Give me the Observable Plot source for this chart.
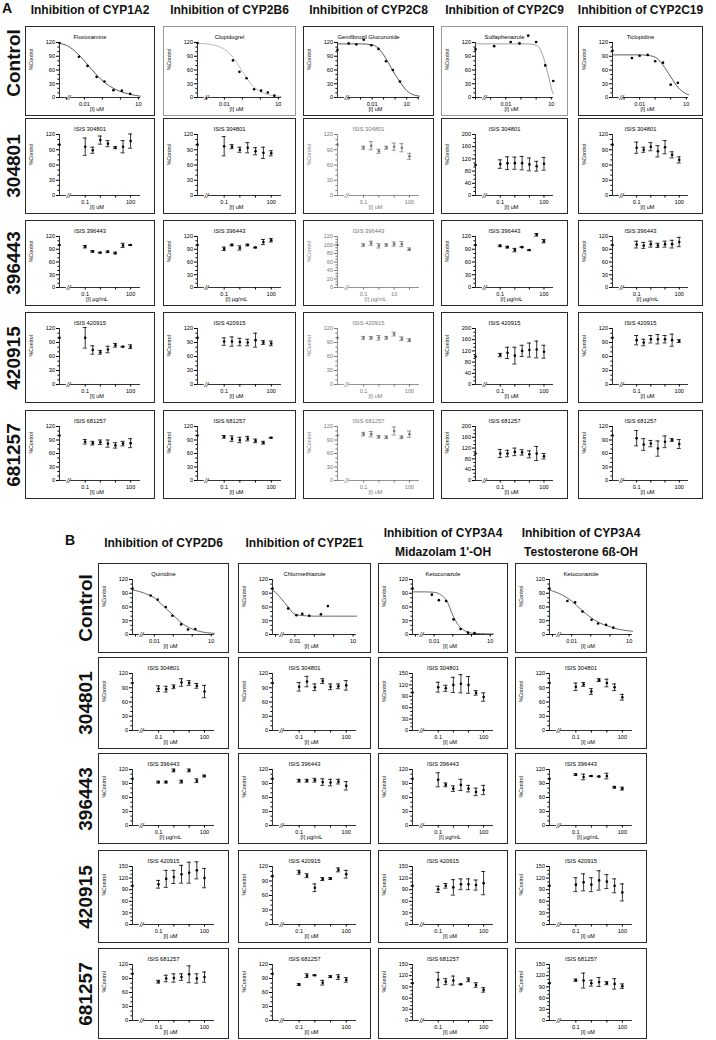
<!DOCTYPE html>
<html><head><meta charset="utf-8">
<script src="https://cdn.jsdelivr.net/npm/d3@7"></script>
<script src="https://cdn.jsdelivr.net/npm/@observablehq/plot@0.6"></script>
<style>
body{margin:0;background:#fff;font-family:"Liberation Sans",Arial,sans-serif;}
#root{position:relative;width:716px;height:1040px;overflow:hidden;background:#fff;}
.panel{position:absolute;box-sizing:border-box;border:1.6px solid #2a2a2a;background:#fff;}
.panel svg{display:block;}
.ct{position:absolute;font-weight:bold;font-size:12px;text-align:center;white-space:nowrap;line-height:19px;color:#111;}
.rl{position:absolute;font-weight:bold;font-size:19px;white-space:nowrap;color:#111;transform:translate(-50%,-50%) rotate(-90deg);}
.sec{position:absolute;font-weight:bold;font-size:14px;color:#111;}
</style></head><body><div id="root"></div>
<script>
// ---------- labels ----------
const rowLabels = ["Control","304801","396443","420915","681257"];
const titlesA = ["Inhibition of CYP1A2","Inhibition of CYP2B6","Inhibition of CYP2C8","Inhibition of CYP2C9","Inhibition of CYP2C19"];
const titlesB = [["Inhibition of CYP2D6"],["Inhibition of CYP2E1"],["Inhibition of CYP3A4","Midazolam 1'-OH"],["Inhibition of CYP3A4","Testosterone 6ß-OH"]];
const probesA = ["Fluvoxamine","Clopidogrel","Gemfibrozil Glucuronide","Sulfaphenazole","Ticlopidine"];
const probesB = ["Quinidine","Chlormethiazole","Ketoconazole","Ketoconazole"];
const isisLabels = ["ISIS 304801","ISIS 396443","ISIS 420915","ISIS 681257"];
const unitLabels = ["[I] uM","[I] µg/mL","[I] uM","[I] uM"];
const ctrlUnit = "[I] uM";

// ---------- ASO panels: concentrations (uM or ug/mL) ----------
const isisConc = [0.1, 0.316, 1, 3.16, 10, 31.6, 100];
const isisTicks = [0.1, 1, 10, 100];

// Section A means / SD, per ASO row, per enzyme (1A2, 2B6, 2C8, 2C9, 2C19)
const meanA_304801 = [[96,89,109,102,94,96,107],[97,96,90,94,87,84,83],[94,98,87,94,96,94,77],[103,106,106,106,102,96,104],[94,90,96,87,95,80,70]];
const errA_304801  = [[17,6,8,6,2,12,14],[19,4,5,10,7,11,5],[3,8,4,3,7,8,6],[14,21,20,22,21,16,21],[11,5,8,11,13,6,6]];
const meanA_396443 = [[96,85,82,84,81,99,100],[91,100,93,100,94,107,111],[100,104,98,100,102,102,90],[98,95,88,95,88,124,109],[101,99,102,99,102,102,107]];
const errA_396443  = [[3,2,1,2,2,5,1],[4,2,5,2,1,6,4],[3,5,5,3,5,6,3],[2,2,4,1,1,3,4],[8,7,7,5,7,9,11]];
const meanA_420915 = [[100,74,69,75,84,81,81],[92,92,91,90,95,90,88],[100,100,100,100,108,98,95],[105,113,103,120,123,125,117],[95,90,97,97,97,95,93]];
const errA_420915  = [[22,9,4,7,4,1,4],[8,10,8,7,15,4,5],[3,3,5,3,4,4,3],[6,20,30,20,25,30,23],[10,7,8,10,8,13,3]];
const meanA_681257 = [[86,83,85,82,78,82,83],[97,93,90,93,88,84,95],[103,103,97,96,110,96,103],[100,100,106,104,97,100,90],[94,80,82,71,86,90,81]];
const errA_681257  = [[5,4,5,8,6,5,10],[3,6,6,5,4,3,1],[4,6,3,3,9,3,7],[15,12,14,10,13,26,10],[17,13,7,17,13,3,10]];
const yMaxA = [[120,120,120,200,120],[120,120,120,120,120],[120,120,120,200,120],[120,120,120,200,120]];

// Section B (2D6, 2E1, 3A4-midazolam, 3A4-testosterone)
const meanB_304801 = [[88,87,92,101,100,94,82],[92,103,91,104,92,93,95],[114,111,120,123,120,99,88],[92,97,82,106,100,91,70]];
const errB_304801  = [[6,6,4,8,5,5,13],[9,11,7,5,6,5,10],[13,8,20,24,22,6,11],[8,4,6,3,8,7,6]];
const meanB_396443 = [[93,93,118,94,118,96,106],[96,96,97,93,92,94,85],[98,87,79,87,79,72,76],[109,104,106,105,106,82,79]];
const errB_396443  = [[2,2,3,3,3,4,2],[3,3,4,7,7,5,9],[15,4,6,12,7,8,10],[2,6,1,1,6,2,3]];
const meanB_420915 = [[104,118,123,130,134,140,120],[108,101,76,94,95,113,104],[91,100,96,104,104,102,107],[103,109,103,114,111,100,83]];
const errB_420915  = [[10,22,17,23,27,22,25],[4,4,8,3,2,4,8],[8,6,20,14,14,13,30],[18,22,18,25,18,18,22]];
const meanB_681257 = [[83,90,91,93,99,90,93],[77,96,97,81,94,93,87],[109,104,107,97,109,95,82],[108,107,100,103,100,98,92]];
const errB_681257  = [[3,7,9,7,18,10,11],[2,4,1,5,2,5,5],[20,8,12,1,5,6,6],[3,20,8,12,4,14,6]];
const yMaxB = [[120,120,150,120],[120,120,120,120],[150,120,150,150],[120,120,150,150]];

// ---------- Control (positive inhibitor) panels, section A ----------
const ctrlBaseA = [119,119,104,105,102];
const ctrlDomainA = [[0.00042,13],[0.00032,15],[0.00001,130],[0.0001,14],[0.00018,14]];
const ctrlTicksA = [[0.001,0.01,0.1,1,10],[0.001,0.01,0.1,1,10],[0.0001,0.001,0.01,0.1,1,10,100],[0.0001,0.001,0.01,0.1,1,10],[0.001,0.01,0.1,1,10]];
const ctrlConcA = [
  [0.005,0.015,0.048,0.13,0.41,1.2,3.5],
  [0.03,0.069,0.17,0.45,1.1,2.6,6],
  [0.000093,0.00043,0.0019,0.0087,0.036,0.16,0.63,2.6],
  [0.0017,0.021,0.08,0.3,1.0,4,13.5],
  [0.0032,0.01,0.033,0.1,0.32,1,2.9]];
const ctrlPctA = [
  [89,69,45,35,16,15,8],
  [81,56,42,18,15,11,4],
  [118,116,126,114,106,79,60,35],
  [112,121,118,135,121,70,36],
  [86,91,93,79,76,28,32]];
// fitted curves as (x, y) pairs
const curveXA = [
  [0.00042,0.001,0.005,0.015,0.048,0.13,0.41,1.2,3.5,10,13],
  [0.00032,0.001,0.003,0.01,0.03,0.1,0.3,1,3,10,15],
  [0.00001,0.0001,0.001,0.01,0.03,0.1,0.3,1,3,10,30,130],
  [0.0001,0.001,0.01,0.1,0.3,1,2,3,5,8,12,14],
  [0.00018,0.001,0.01,0.03,0.1,0.3,1,3,10,14]];
const curveYA = [
  [118,114,93,72,49,33,20,12,7,3.5,3],
  [118,117,114,105,88,57,30,13,6,3,2],
  [117,117,117,115,109,93,73,50,32,15,7,3],
  [117,117,117,117,117,114,103,88,62,35,12,8],
  [93,93,93,92,88,72,45,22,8,6]];

// ---------- Control panels, section B ----------
const ctrlBaseB = [100,100,100,100];
const ctrlDomainB = [0.0007,15];
const ctrlTicksB = [0.001,0.01,0.1,1,10];
const ctrlConcB = [
  [0.0063,0.015,0.04,0.09,0.26,0.6,1.45],
  [0.0045,0.012,0.024,0.055,0.22,0.5],
  [0.0076,0.018,0.044,0.11,0.26,0.65,1.45],
  [0.006,0.015,0.037,0.11,0.24,0.63,1.5]];
const ctrlPctB = [
  [85,76,60,41,22,11,12],
  [57,42,45,41,44,62],
  [87,75,73,33,12,4,3],
  [73,70,50,32,24,21,15]];
const curveXB = [
  [0.0007,0.001,0.003,0.01,0.03,0.1,0.3,1,3,10,15],
  [0.0007,0.001,0.002,0.0045,0.01,0.03,0.1,1,15],
  [0.0007,0.001,0.003,0.01,0.02,0.05,0.1,0.2,0.5,1,3,15],
  [0.0007,0.001,0.003,0.01,0.03,0.1,0.3,1,3,10,15]];
const curveYB = [
  [97,96,90,80,62,42,24,12,6,3,2.5],
  [96,92,78,60,44,41,40,40,40],
  [93,93,93,92,88,72,42,20,7,3,2,1],
  [97,95,87,73,55,37,25,17,11,8,7]];

// ---------- layout ----------
const colA = [{l:25,w:130},{l:163,w:133},{l:303,w:131},{l:441,w:127},{l:578,w:125}];
const rowA = [{t:26,h:90},{t:118,h:96},{t:220,h:86},{t:312,h:91},{t:410,h:89}];
const colB = [{l:98,w:131},{l:238,w:133},{l:378,w:130},{l:515,w:132}];
const rowB = [{t:563,h:90},{t:657,h:92},{t:753,h:91},{t:850,h:93},{t:948,h:91}];

const root = document.getElementById("root");
const FONT = '"Liberation Sans", Arial, sans-serif';

function panel(o){
  const div = document.createElement("div");
  div.className = "panel";
  Object.assign(div.style,{left:o.left+"px",top:o.top+"px",width:o.w+"px",height:o.h+"px",borderColor:o.border||"#2a2a2a"});
  const ink = o.ink || "#000";
  const [x0,x1] = o.xDomain;
  const mL = 33, mR = 13, mT = 15, mB = 17;
  const W = o.w-3, H = o.h-3;
  const pxDec = (W-mL-mR)/Math.log10(x1/x0);
  const bc = x0*Math.pow(10,9/pxDec);
  const brk = [bc*Math.pow(10,-2.2/pxDec), bc*Math.pow(10,2.2/pxDec)];
  const yTicks = d3.range(0, o.ymax+1e-9, o.ystep);
  const yMinor = d3.range(0, o.ymax+1e-9, o.ystep/3).filter(v => !yTicks.some(t => Math.abs(t-v) < 1e-6));
  const pts = o.conc.map((c,i) => ({x:c, y:o.mean[i], e:o.err ? o.err[i] : 0}));
  const k = Math.pow(10, 2/pxDec);
  const marks = [
    Plot.ruleX([x0],{y1:0,y2:o.ymax,stroke:ink,strokeWidth:0.8}),
    Plot.ruleY([0],{x1:x0,x2:brk[0],stroke:ink,strokeWidth:0.8}),
    Plot.ruleY([0],{x1:brk[1],x2:x1,stroke:ink,strokeWidth:0.8}),
    Plot.axisY(yTicks,{anchor:"left",tickSize:3,tickPadding:1.5,fontSize:5.6,stroke:ink,fill:ink,label:null}),
    Plot.axisY(yMinor,{anchor:"left",tickSize:1.6,tickFormat:()=>"",stroke:ink,label:null}),
    Plot.axisX(o.xTicks,{anchor:"bottom",tickSize:2.5,tickPadding:2,fontSize:5.6,stroke:ink,fill:ink,label:null,
      tickFormat:d => o.xLabels.includes(d) ? String(d) : ""}),
    Plot.text([bc],{x:d=>d,y:()=>0,text:()=>"//",fontSize:7.5,fontStyle:"italic",fill:ink}),
    Plot.text([o.title],{frameAnchor:"top",dy:-8,dx:-(mL-mR)/2,fontSize:5.8,fill:ink}),
    Plot.text([o.unit],{frameAnchor:"bottom",dy:13,dx:-3,fontSize:5.6,fill:ink}),
    Plot.text(["%Control"],{frameAnchor:"left",dx:-28,rotate:-90,fontSize:5.2,fill:ink})
  ];
  if (o.curveY) marks.push(Plot.line(o.curveX.map((x,i)=>({x,y:o.curveY[i]})),{x:"x",y:"y",curve:"monotone-x",stroke:o.curveColor||"#333",strokeWidth:0.8}));
  if (o.err) {
    marks.push(Plot.ruleX(pts,{x:"x",y1:d=>d.y-d.e,y2:d=>d.y+d.e,stroke:ink,strokeWidth:0.8}));
    marks.push(Plot.ruleY(pts,{y:d=>d.y+d.e,x1:d=>d.x/k,x2:d=>d.x*k,stroke:ink,strokeWidth:0.8}));
    marks.push(Plot.ruleY(pts,{y:d=>d.y-d.e,x1:d=>d.x/k,x2:d=>d.x*k,stroke:ink,strokeWidth:0.8}));
  }
  marks.push(Plot.dot(pts,{x:"x",y:"y",r:1.3,fill:ink,stroke:null}));
  marks.push(Plot.dot([{x:x0,y:o.base}],{x:"x",y:"y",r:1.3,fill:ink,stroke:null}));
  const svg = Plot.plot({
    width:W, height:H, marginLeft:mL, marginRight:mR, marginTop:mT, marginBottom:mB,
    x:{type:"log",domain:[x0,x1]}, y:{domain:[0,o.ymax]},
    style:{fontFamily:FONT,background:"transparent",overflow:"visible"},
    marks
  });
  div.appendChild(svg);
  root.appendChild(div);
}

function addText(cls, txt, style){
  const d = document.createElement("div");
  d.className = cls; d.innerHTML = txt;
  Object.assign(d.style, style);
  root.appendChild(d);
  return d;
}

// Section labels
addText("sec","A",{left:"2px",top:"0px"});
addText("sec","B",{left:"65px",top:"532px"});

// Column titles
titlesA.forEach((t,i)=>addText("ct",t,{left:(colA[i].l+colA[i].w/2)+"px",top:"1px",transform:"translateX(-50%)"}));
titlesB.forEach((t,i)=>addText("ct",t.join("<br>"),{left:(colB[i].l+colB[i].w/2)+"px",top:(t.length>1?"524px":"534px"),transform:"translateX(-50%)"}));

// Row labels
rowLabels.forEach((r,i)=>{
  addText("rl",r,{left:"14px",top:(rowA[i].t+rowA[i].h/2-(i===0?8:0))+"px"});
  addText("rl",r,{left:"86px",top:(rowB[i].t+rowB[i].h/2)+"px"});
});

const isoDomain = [0.002,450];

// Section A
const meansA = [meanA_304801,meanA_396443,meanA_420915,meanA_681257];
const errsA = [errA_304801,errA_396443,errA_420915,errA_681257];
colA.forEach((c,j)=>{
  const faint = j===2;
  panel({left:c.l,top:rowA[0].t,w:c.w,h:rowA[0].h,title:probesA[j],unit:ctrlUnit,
    conc:ctrlConcA[j],mean:ctrlPctA[j],base:ctrlBaseA[j],ymax:120,ystep:30,
    xDomain:ctrlDomainA[j],xTicks:ctrlTicksA[j],xLabels:[0.01,10],
    curveX:curveXA[j],curveY:curveYA[j],curveColor:(j===1)?"#aaa":(j===3?"#888":"#333"),
    border:(j===1||j===3)?"#999":"#2a2a2a"});
  for(let r=0;r<4;r++){
    const ym = yMaxA[r][j];
    const c2c8 = (j===2 && r===1);
    panel({left:c.l,top:rowA[r+1].t,w:c.w,h:rowA[r+1].h,title:isisLabels[r],unit:unitLabels[r],
      conc:isisConc,mean:meansA[r][j],err:errsA[r][j],base:100,ymax:ym,ystep:ym===200?40:(c2c8?20:30),
      xDomain:isoDomain,xTicks:isisTicks,xLabels:c2c8?[0.1,10]:[0.1,100],
      ink:faint?"#777":"#000"});
  }
});

// Section B
const meansB = [meanB_304801,meanB_396443,meanB_420915,meanB_681257];
const errsB = [errB_304801,errB_396443,errB_420915,errB_681257];
colB.forEach((c,j)=>{
  panel({left:c.l,top:rowB[0].t,w:c.w,h:rowB[0].h,title:probesB[j],unit:ctrlUnit,
    conc:ctrlConcB[j],mean:ctrlPctB[j],base:ctrlBaseB[j],ymax:120,ystep:30,
    xDomain:ctrlDomainB,xTicks:ctrlTicksB,xLabels:[0.01,10],
    curveX:curveXB[j],curveY:curveYB[j],curveColor:"#444"});
  for(let r=0;r<4;r++){
    const ym = yMaxB[r][j];
    panel({left:c.l,top:rowB[r+1].t,w:c.w,h:rowB[r+1].h,title:isisLabels[r],unit:unitLabels[r],
      conc:isisConc,mean:meansB[r][j],err:errsB[r][j],base:100,ymax:ym,ystep:30,
      xDomain:isoDomain,xTicks:isisTicks,xLabels:[0.1,100]});
  }
});
</script></body></html>
